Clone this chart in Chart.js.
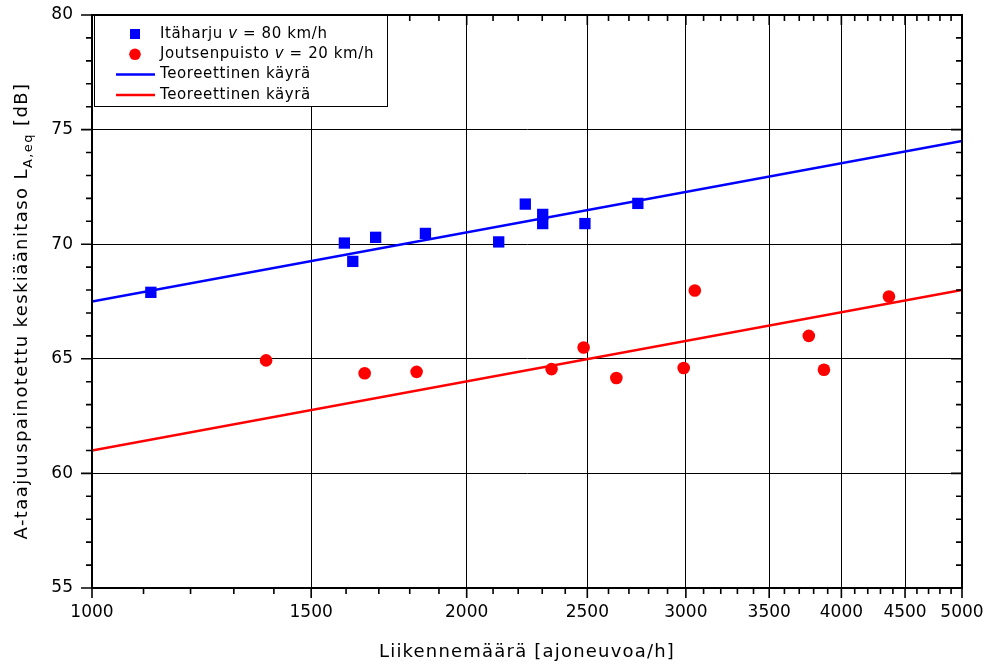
<!DOCTYPE html>
<html lang="fi">
<head>
<meta charset="UTF-8">
<title>Liikennemäärä ja keskiäänitaso</title>
<script src="https://cdn.jsdelivr.net/npm/chart.js"></script>
<style>
    body { margin: 0; background: #fff; }
    #wrap { width: 991px; height: 665px; }
</style>
</head>
<body>
<div id="wrap"><canvas id="noiseChart" width="991" height="665"></canvas></div>
<script>
// Mittaustulokset
const itaharjuTraffic = [1115, 1595, 1620, 1690, 1853, 2122, 2229, 2302, 2302, 2489, 2745];
const itaharjuLevel   = [67.9, 70.05, 69.25, 70.3, 70.47, 70.1, 71.75, 71.3, 70.9, 70.9, 71.78];
const joutsenTraffic  = [1380, 1656, 1823, 2340, 2483, 2638, 2988, 3050, 3766, 3873, 4368];
const joutsenLevel    = [64.93, 64.37, 64.43, 64.55, 65.49, 64.16, 64.6, 67.98, 66.0, 64.52, 67.72];

// Teoreettiset käyrät, alku- ja loppupiste
const curveTraffic  = [1000, 5000];
const itaharjuCurve = [67.5, 74.5];
const joutsenCurve  = [61.0, 68.0];

// Akselit
const xTickValues = [1000, 1500, 2000, 2500, 3000, 3500, 4000, 4500, 5000];
const yTickValues = [55, 60, 65, 70, 75, 80];
const xTitle = 'Liikennemäärä [ajoneuvoa/h]';
const yTitleParts = [
    { text: 'A-taajuuspainotettu keskiäänitaso L' },
    { text: 'A,eq', sub: true },
    { text: ' [dB]' }
];

// pienet väliviivat: 100 ajon./h ja 1 dB välein
const xMinorTicks = [];
for (let v = 1100; v < 5000; v += 100) if (v % 500 !== 0) xMinorTicks.push(v);
const yMinorTicks = [];
for (let v = 56; v < 80; v++) if (v % 5 !== 0) yMinorTicks.push(v);

const FONT = 'DejaVu Sans';

const toPoints = (xs, ys) => xs.map((x, i) => ({ x: x, y: ys[i] }));

// akselin koko kiinni, ei ylimääräistä reunatilaa tekstien takia
function fixScale(scale, size) {
    if (scale.isHorizontal()) scale.height = size; else scale.width = size;
    scale.paddingTop = 0;
    scale.paddingBottom = 0;
    scale.paddingLeft = 0;
    scale.paddingRight = 0;
}

// kehys, reunaviivat ja väliviivat kaikille neljälle sivulle
const framePlugin = {
    id: 'frame',
    afterDatasetsDraw(chart) {
        const { ctx, chartArea: a, scales: { x, y } } = chart;
        ctx.save();
        ctx.strokeStyle = '#000';
        ctx.lineWidth = 2;
        ctx.strokeRect(a.left, a.top, a.right - a.left, a.bottom - a.top);

        ctx.lineWidth = 1.6;
        ctx.beginPath();
        const xMark = (v, len) => {
            const px = x.getPixelForValue(v);
            ctx.moveTo(px, a.bottom); ctx.lineTo(px, a.bottom + len);
            ctx.moveTo(px, a.top); ctx.lineTo(px, a.top + len);
        };
        const yMark = (v, len) => {
            const py = y.getPixelForValue(v);
            ctx.moveTo(a.left, py); ctx.lineTo(a.left - len, py);
            ctx.moveTo(a.right, py); ctx.lineTo(a.right - len, py);
        };
        xTickValues.forEach(v => xMark(v, 10));
        xMinorTicks.forEach(v => xMark(v, 6));
        yTickValues.forEach(v => yMark(v, 11));
        yMinorTicks.forEach(v => yMark(v, 6));
        ctx.stroke();
        ctx.restore();
    }
};

// akselien otsikot, y-otsikossa alaindeksi
const titlePlugin = {
    id: 'axisTitles',
    afterDraw(chart) {
        const { ctx, chartArea: a } = chart;
        ctx.save();
        ctx.fillStyle = '#000';
        ctx.textBaseline = 'alphabetic';
        ctx.letterSpacing = '1.2px';

        ctx.font = '18px "' + FONT + '"';
        ctx.textAlign = 'center';
        ctx.fillText(xTitle, (a.left + a.right) / 2, 657);

        ctx.letterSpacing = '1.4px';
        ctx.textAlign = 'left';
        ctx.translate(27, 311);
        ctx.rotate(-Math.PI / 2);
        let total = 0;
        yTitleParts.forEach(p => {
            ctx.font = (p.sub ? '13px' : '18px') + ' "' + FONT + '"';
            p.w = ctx.measureText(p.text).width;
            total += p.w;
        });
        let cx = -total / 2;
        yTitleParts.forEach(p => {
            ctx.font = (p.sub ? '13px' : '18px') + ' "' + FONT + '"';
            ctx.fillText(p.text, cx, p.sub ? 5 : 0);
            cx += p.w;
        });
        ctx.restore();
    }
};

// selite kuvaajan vasempaan yläkulmaan
const legendPlugin = {
    id: 'boxLegend',
    afterDraw(chart) {
        const { ctx, chartArea: a } = chart;
        const left = a.left + 2, top = a.top, w = 294, h = 92;
        ctx.save();
        ctx.fillStyle = '#fff';
        ctx.fillRect(left, top, w, h);
        ctx.strokeStyle = '#000';
        ctx.lineWidth = 1;
        ctx.strokeRect(left + 0.5, top + 0.5, w - 1, h - 1);

        ctx.textBaseline = 'middle';
        ctx.letterSpacing = '0.6px';
        chart.data.datasets.forEach((ds, i) => {
            const cy = top + 19 + i * 20.3;
            const sx = left + 41;
            if (ds.showLine) {
                ctx.strokeStyle = ds.borderColor;
                ctx.lineWidth = 2.5;
                ctx.beginPath();
                ctx.moveTo(left + 22, cy);
                ctx.lineTo(left + 61, cy);
                ctx.stroke();
            } else {
                ctx.fillStyle = ds.backgroundColor;
                if (ds.pointStyle === 'rect') {
                    ctx.fillRect(sx - 5, cy - 5, 10, 10);
                } else {
                    ctx.beginPath();
                    ctx.arc(sx, cy, 5.8, 0, Math.PI * 2);
                    ctx.fill();
                }
            }
            ctx.fillStyle = '#000';
            let tx = left + 66;
            ds.label.split(/\b(v)\b/).forEach(seg => {
                ctx.font = (seg === 'v' ? 'italic ' : '') + '15px "' + FONT + '"';
                ctx.fillText(seg, tx, cy);
                tx += ctx.measureText(seg).width;
            });
        });
        ctx.restore();
    }
};

const ctx = document.getElementById('noiseChart').getContext('2d');
const noiseChart = new Chart(ctx, {
    type: 'scatter',
    data: {
        datasets: [{
            label: 'Itäharju v = 80 km/h',
            data: toPoints(itaharjuTraffic, itaharjuLevel),
            pointStyle: 'rect',
            pointRadius: 8,
            backgroundColor: '#0000FF',
            borderColor: '#0000FF',
            borderWidth: 0,
            order: 0
        }, {
            label: 'Joutsenpuisto v = 20 km/h',
            data: toPoints(joutsenTraffic, joutsenLevel),
            pointStyle: 'circle',
            pointRadius: 6.3,
            backgroundColor: '#FF0000',
            borderColor: '#FF0000',
            borderWidth: 0,
            order: 0
        }, {
            label: 'Teoreettinen käyrä',
            data: toPoints(curveTraffic, itaharjuCurve),
            showLine: true,
            pointRadius: 0,
            borderColor: '#0000FF',
            borderWidth: 2.5,
            order: 1
        }, {
            label: 'Teoreettinen käyrä',
            data: toPoints(curveTraffic, joutsenCurve),
            showLine: true,
            pointRadius: 0,
            borderColor: '#FF0000',
            borderWidth: 2.5,
            order: 1
        }]
    },
    options: {
        responsive: false,
        animation: false,
        layout: { padding: { left: 0, right: 29, top: 15, bottom: 0 } },
        plugins: {
            legend: { display: false },
            tooltip: { enabled: false }
        },
        scales: {
            x: {
                type: 'logarithmic',
                min: 1000,
                max: 5000,
                afterBuildTicks: scale => { scale.ticks = xTickValues.map(v => ({ value: v })); },
                afterFit: scale => fixScale(scale, 77),
                grid: { color: '#000', lineWidth: 1, drawTicks: false },
                border: { display: true, color: '#000', width: 2 },
                ticks: {
                    callback: v => String(v),
                    autoSkip: false,
                    maxRotation: 0,
                    minRotation: 0,
                    padding: 14,
                    color: '#000',
                    font: { family: FONT, size: 17 }
                }
            },
            y: {
                type: 'linear',
                min: 55,
                max: 80,
                afterBuildTicks: scale => { scale.ticks = yTickValues.map(v => ({ value: v })); },
                afterFit: scale => fixScale(scale, 92),
                grid: { color: '#000', lineWidth: 1, drawTicks: false },
                border: { display: true, color: '#000', width: 2 },
                ticks: {
                    padding: 19,
                    color: '#000',
                    font: { family: FONT, size: 17 }
                }
            }
        }
    },
    plugins: [framePlugin, titlePlugin, legendPlugin]
});
</script>
</body>
</html>
